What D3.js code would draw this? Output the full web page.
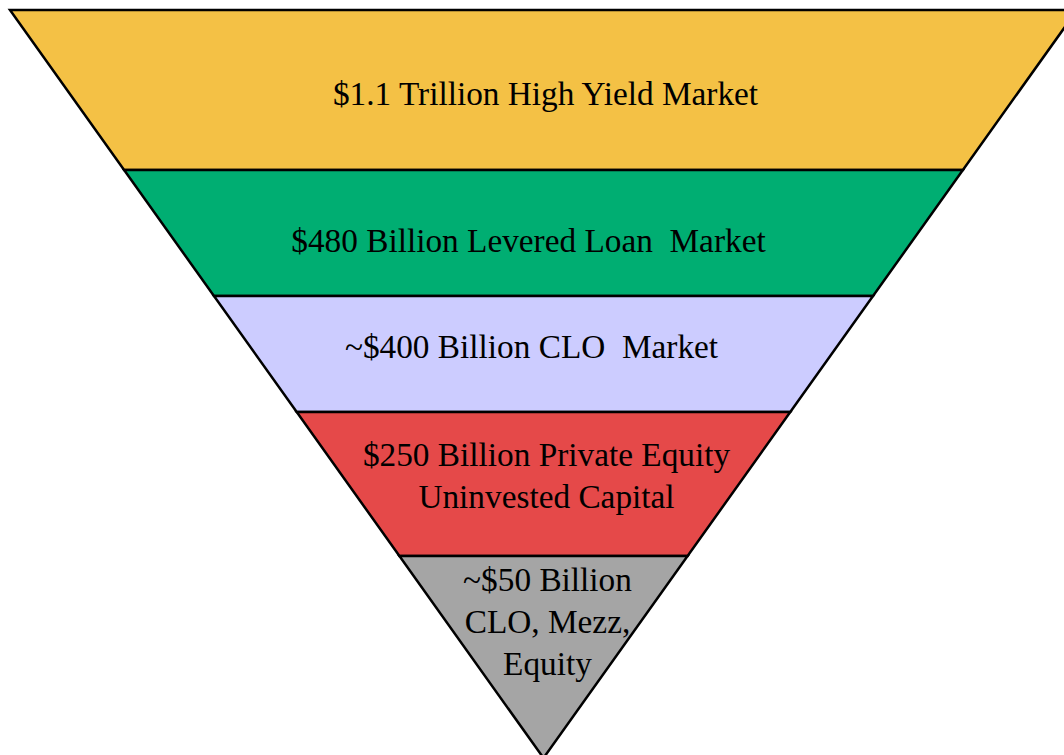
<!DOCTYPE html>
<html>
<head>
<meta charset="utf-8">
<script src="https://cdn.jsdelivr.net/npm/d3@7"></script>
<style>
  html, body { margin: 0; padding: 0; background: #fff; overflow: hidden; }
  svg { display: block; }
  .label { font-family: "Liberation Serif", "Times New Roman", serif; font-size: 33.3px; fill: #000; white-space: pre; }
</style>
</head>
<body>
<div id="canvas"></div>
<script>
// funnel stages, top to bottom
const stages = ['High Yield', 'Levered Loan', 'CLO', 'PE Dry Powder', 'CLO Mezz/Equity'];
const labelLines = [
    ['$1.1 Trillion High Yield Market'],
    ['$480 Billion Levered Loan  Market'],
    ['~$400 Billion CLO  Market'],
    ['$250 Billion Private Equity', 'Uninvested Capital'],
    ['~$50 Billion', 'CLO, Mezz,', 'Equity']
];
// depth of each band (share of funnel height)
const bandDepth = [160, 126, 116, 144, 202];
const colors = ['#F4C145', '#00AE72', '#CCCCFF', '#E54949', '#A5A5A5'];

// label placement tweaks
const labelDy = [83, 70, 50, 63, 65];
const labelDx = [2, -15, -12, 3, 4];
const lineHeight = 42;

const width = 1064;
const height = 755;
const cx = 543.5;

const total = d3.sum(bandDepth);
const edges = d3.cumsum([0].concat(bandDepth));

const y = d3.scaleLinear()
    .domain([0, total])
    .range([10, 758]);
const halfW = d3.scaleLinear()
    .domain([0, total])
    .range([533.5, 0]);

const svg = d3.select('#canvas')
    .append('svg')
    .attr('width', width)
    .attr('height', height);

const bands = stages.map((name, i) => ({
    name: name,
    top: edges[i],
    bottom: edges[i + 1],
    color: colors[i],
    lines: labelLines[i],
    dx: labelDx[i],
    dy: labelDy[i]
}));

function bandPath(d) {
    const pts = [
        [cx - halfW(d.top), y(d.top)],
        [cx + halfW(d.top), y(d.top)],
        [cx + halfW(d.bottom), y(d.bottom)],
        [cx - halfW(d.bottom), y(d.bottom)]
    ];
    return d3.line()(pts) + 'Z';
}

svg.selectAll('path.band')
    .data(bands)
    .enter()
    .append('path')
    .classed('band', true)
    .attr('d', bandPath)
    .attr('fill', d => d.color)
    .attr('stroke', '#000')
    .attr('stroke-width', 2.5)
    .attr('stroke-linejoin', 'miter');

const labels = svg.selectAll('text.label')
    .data(bands)
    .enter()
    .append('text')
    .classed('label', true)
    .attr('text-anchor', 'middle')
    .attr('xml:space', 'preserve');

labels.each(function (d) {
    const t = d3.select(this);
    const n = d.lines.length;
    const centerY = y(d.top) + d.dy;
    d.lines.forEach((line, k) => {
        t.append('tspan')
            .attr('x', cx + d.dx)
            .attr('y', centerY + (k - (n - 1) / 2) * lineHeight)
            .attr('dy', '0.35em')
            .text(line);
    });
});
</script>
</body>
</html>
